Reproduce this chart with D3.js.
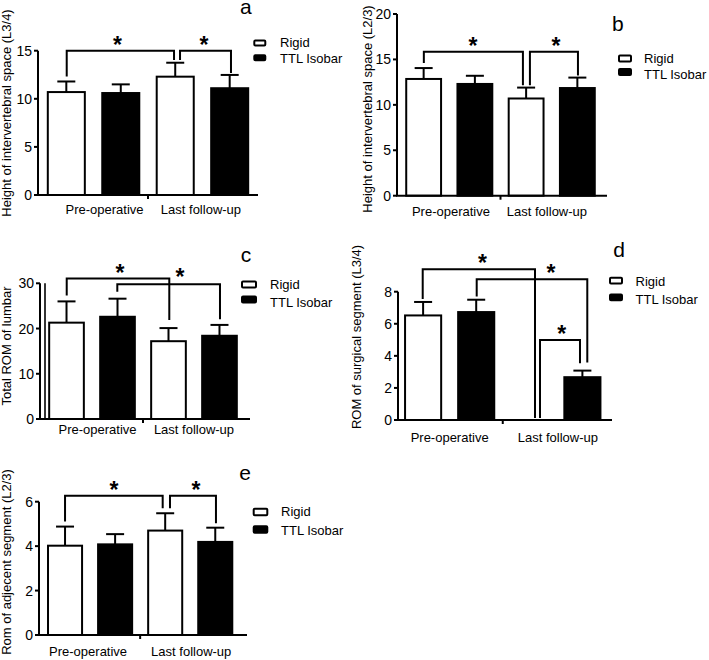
<!DOCTYPE html>
<html><head><meta charset="utf-8">
<script src="https://cdn.jsdelivr.net/npm/d3@7"></script>
<style>html,body{margin:0;padding:0;background:#fff;} svg{display:block;}</style>
</head><body>
<svg id="chart" width="709" height="660"></svg>
<script>
// ---------- DATA ----------
const categories = ["Pre-operative", "Last follow-up"];
const seriesNames = ["Rigid", "TTL Isobar"];

// panel a
const aTitle = "Height of intervertebral space (L3/4)";
const aRigidMean = [10.7, 12.3];
const aRigidSD = [1.1, 1.45];
const aTtlMean = [10.6, 11.1];
const aTtlSD = [0.9, 1.38];
const aTicks = [0, 5, 10, 15];
const aPairs = [[0, 2], [2, 3]];

// panel b
const bTitle = "Height of intervertebral space (L2/3)";
const bRigidMean = [12.85, 10.7];
const bRigidSD = [1.2, 1.2];
const bTtlMean = [12.3, 11.85];
const bTtlSD = [0.9, 1.15];
const bTicks = [0, 5, 10, 15, 20];
const bPairs = [[0, 2], [2, 3]];

// panel c
const cTitle = "Total ROM of lumbar";
const cRigidMean = [21.3, 17.2];
const cRigidSD = [4.7, 2.9];
const cTtlMean = [22.6, 18.4];
const cTtlSD = [4.0, 2.4];
const cTicks = [0, 10, 20, 30];
const cPairs = [[0, 2], [1, 3]];

// panel d
const dTitle = "ROM of surgical segment (L3/4)";
const dRigidMean = [6.52, 0];
const dRigidSD = [0.84, 0];
const dTtlMean = [6.73, 2.67];
const dTtlSD = [0.77, 0.41];
const dTicks = [0, 2, 4, 6, 8];
const dPairs = [[0, 2], [1, 3], [2, 3]];

// panel e
const eTitle = "Rom of adjecent segment (L2/3)";
const eRigidMean = [4.02, 4.7];
const eRigidSD = [0.86, 0.78];
const eTtlMean = [4.08, 4.19];
const eTtlSD = [0.46, 0.64];
const eTicks = [0, 2, 4, 6];
const ePairs = [[0, 2], [2, 3]];

// ---------- LAYOUT ----------
const layout = {
  a: {axisX: 38, axisEnd: 258, band: [38, 258], y0: 195, yTop: 50.7, labelDx: [11, -1.5], labelDy: 19,
      title: [11, 113], letter: [240, 14],
      legend: {x: 254.3, w: 11, h: 5, rows: [42.9, 57.7], textX: 280, textDy: [3.8, 5.6]},
      brackets: [{level: 15, gap: [5, 2.7], dx: [0.4, -1.2], starDx: -3},
                 {level: 15, gap: [2.7, 2], dx: [4.8, 1.3], starDx: -1.5}]},
  b: {axisX: 397, axisEnd: 607, band: [397, 604], y0: 195.7, yTop: 14, labelDx: [1.7, -4.8], labelDy: 20.3,
      title: [372, 109], letter: [612, 31],
      legend: {x: 619, w: 12, h: 6, rows: [58.5, 72], textX: 644, textDy: [4, 6.6]},
      brackets: [{level: 15.85, gap: [5, 2.3], dx: [0.2, -3.2], starDx: -0.5},
                 {level: 15.85, gap: [2.3, 2], dx: [3.8, 0.6], starDx: 2}]},
  c: {axisX: 40, axisEnd: 250, band: [40, 246], y0: 419, yTop: 283.3, labelDx: [5.5, 0], labelDy: 15.3,
      title: [11, 346], letter: [240.7, 261.7], extraAxis: 5,
      legend: {x: 242, w: 14, h: 6, rows: [284.5, 299.5], textX: 270, textDy: [4.5, 7]},
      brackets: [{level: 31.04, gap: [6, 8], dx: [0.2, 0.8], starDx: 2},
                 {level: 29.8, gap: [7, 5.7], dx: [-0.2, 0.5], starDx: 11.3, starDy: -1.7}]},
  d: {axisX: 398, axisEnd: 612, band: [395.5, 610], y0: 420, yTop: 291.7, labelDx: [0, 2], labelDy: 21.6,
      title: [361, 337], letter: [613.3, 256.7],
      legend: {x: 610, w: 12, h: 5.7, rows: [280.7, 297.3], textX: 635.5, textDy: [4.8, 6.2]},
      brackets: [{level: 9.4, gap: [3, 2], dx: [-0.4, 5.7], starDx: 3.5},
                 {level: 8.77, gap: [3.3, 8], dx: [0.5, 4.9], starDx: 19},
                 {level: 4.99, gap: [2, 7.4], dx: [10.7, -2.4], starDx: 1.7}]},
  e: {axisX: 39, axisEnd: 247, band: [39, 241.3], y0: 635, yTop: 501.7, labelDx: [-2, 1], labelDy: 21,
      title: [11, 562], letter: [239.3, 480],
      legend: {x: 253.7, w: 13.6, h: 6.5, rows: [512, 529.5], textX: 281, textDy: [4, 5]},
      brackets: [{level: 6.27, gap: [5, 5], dx: [0, -2.5], starDx: 0},
                 {level: 6.27, gap: [5, 4.4], dx: [4.8, 0.7], starDx: 3}]}
};

const panels = [
  {key: "a", title: aTitle, rm: aRigidMean, rs: aRigidSD, tm: aTtlMean, ts: aTtlSD, ticks: aTicks, pairs: aPairs},
  {key: "b", title: bTitle, rm: bRigidMean, rs: bRigidSD, tm: bTtlMean, ts: bTtlSD, ticks: bTicks, pairs: bPairs},
  {key: "c", title: cTitle, rm: cRigidMean, rs: cRigidSD, tm: cTtlMean, ts: cTtlSD, ticks: cTicks, pairs: cPairs},
  {key: "d", title: dTitle, rm: dRigidMean, rs: dRigidSD, tm: dTtlMean, ts: dTtlSD, ticks: dTicks, pairs: dPairs},
  {key: "e", title: eTitle, rm: eRigidMean, rs: eRigidSD, tm: eTtlMean, ts: eTtlSD, ticks: eTicks, pairs: ePairs}
];

const FONT = "'Liberation Sans', Arial, Helvetica, sans-serif";
const SW = 2;
const svg = d3.select("#chart");

panels.forEach(p => {
  const L = layout[p.key];
  const g = svg.append("g").attr("font-family", FONT);

  // bars: index = category*2 + series
  const bars = [];
  categories.forEach((c, ci) => {
    bars.push({cat: c, series: seriesNames[0], mean: p.rm[ci], sd: p.rs[ci]});
    bars.push({cat: c, series: seriesNames[1], mean: p.tm[ci], sd: p.ts[ci]});
  });
  const ids = bars.map((b, i) => i);

  const x = d3.scaleBand().domain(ids).range(L.band).paddingInner(0.32).paddingOuter(0.18);
  const yMax = d3.max(p.ticks);
  const y = d3.scaleLinear().domain([0, yMax]).range([L.y0, L.yTop]);
  const bw = x.bandwidth();
  const cx = i => x(i) + bw / 2;

  // bars
  g.selectAll("rect.bar").data(bars).join("rect")
    .attr("class", "bar")
    .attr("x", (d, i) => x(i))
    .attr("width", bw)
    .attr("y", d => y(d.mean))
    .attr("height", d => L.y0 - y(d.mean))
    .attr("fill", d => d.series === seriesNames[0] ? "#fff" : "#000")
    .attr("stroke", "#000")
    .attr("stroke-width", SW);

  // error bars (upper only)
  bars.forEach((d, i) => {
    if (d.sd <= 0) return;
    const top = y(d.mean + d.sd);
    g.append("line").attr("x1", cx(i)).attr("x2", cx(i))
      .attr("y1", y(d.mean)).attr("y2", top)
      .attr("stroke", "#000").attr("stroke-width", SW);
    g.append("line").attr("x1", cx(i) - 9).attr("x2", cx(i) + 9)
      .attr("y1", top).attr("y2", top)
      .attr("stroke", "#000").attr("stroke-width", SW);
  });

  // y axis
  g.append("line").attr("x1", L.axisX).attr("x2", L.axisX)
    .attr("y1", L.y0).attr("y2", y(yMax))
    .attr("stroke", "#000").attr("stroke-width", SW);
  if (L.extraAxis) {
    g.append("line").attr("x1", L.axisX + L.extraAxis).attr("x2", L.axisX + L.extraAxis)
      .attr("y1", L.y0).attr("y2", y(yMax))
      .attr("stroke", "#000").attr("stroke-width", 1.6);
  }
  p.ticks.forEach(t => {
    g.append("line").attr("x1", L.axisX - 4).attr("x2", L.axisX)
      .attr("y1", y(t)).attr("y2", y(t))
      .attr("stroke", "#000").attr("stroke-width", SW);
    g.append("text").attr("x", L.axisX - 6).attr("y", y(t) + 5)
      .attr("text-anchor", "end").attr("font-size", 14).text(t);
  });

  // x axis
  g.append("line").attr("x1", L.axisX - 1).attr("x2", L.axisEnd)
    .attr("y1", L.y0).attr("y2", L.y0)
    .attr("stroke", "#000").attr("stroke-width", SW);
  const mid = (x(1) + bw + x(2)) / 2;
  g.append("line").attr("x1", mid).attr("x2", mid)
    .attr("y1", L.y0).attr("y2", L.y0 + 4)
    .attr("stroke", "#000").attr("stroke-width", SW);

  categories.forEach((c, ci) => {
    const gc = (x(ci * 2) + x(ci * 2 + 1) + bw) / 2;
    g.append("text").attr("x", gc + L.labelDx[ci]).attr("y", L.y0 + L.labelDy)
      .attr("text-anchor", "middle").attr("font-size", 13).text(c);
  });

  // y title
  g.append("text")
    .attr("transform", `translate(${L.title[0]},${L.title[1]}) rotate(-90)`)
    .attr("text-anchor", "middle").attr("font-size", 13).text(p.title);

  // panel letter
  g.append("text").attr("x", L.letter[0]).attr("y", L.letter[1])
    .attr("font-size", 21).text(p.key);

  // legend
  seriesNames.forEach((s, si) => {
    const ry = L.legend.rows[si];
    g.append("rect").attr("x", L.legend.x).attr("y", ry - L.legend.h / 2)
      .attr("width", L.legend.w).attr("height", L.legend.h).attr("rx", 1)
      .attr("fill", si === 0 ? "#fff" : "#000")
      .attr("stroke", "#000").attr("stroke-width", SW);
    g.append("text").attr("x", L.legend.textX).attr("y", ry + L.legend.textDy[si])
      .attr("font-size", 13).text(s);
  });

  // significance brackets
  p.pairs.forEach((pr, k) => {
    const B = L.brackets[k];
    const [i0, i1] = pr;
    const xa = cx(i0) + B.dx[0], xb = cx(i1) + B.dx[1];
    const ly = y(B.level);
    const endY = i => y(bars[i].mean + bars[i].sd);
    const ya = endY(i0) - B.gap[0], yb = endY(i1) - B.gap[1];
    g.append("path")
      .attr("d", `M${xa},${ya}V${ly}H${xb}V${yb}`)
      .attr("fill", "none").attr("stroke", "#000").attr("stroke-width", SW)
      .attr("stroke-linejoin", "miter");
    g.append("text").attr("x", (xa + xb) / 2 + B.starDx)
      .attr("y", ly + 2 + (B.starDy || 0))
      .attr("text-anchor", "middle").attr("font-size", 23).attr("font-weight", "bold")
      .text("*");
  });
});
</script>
</body></html>
